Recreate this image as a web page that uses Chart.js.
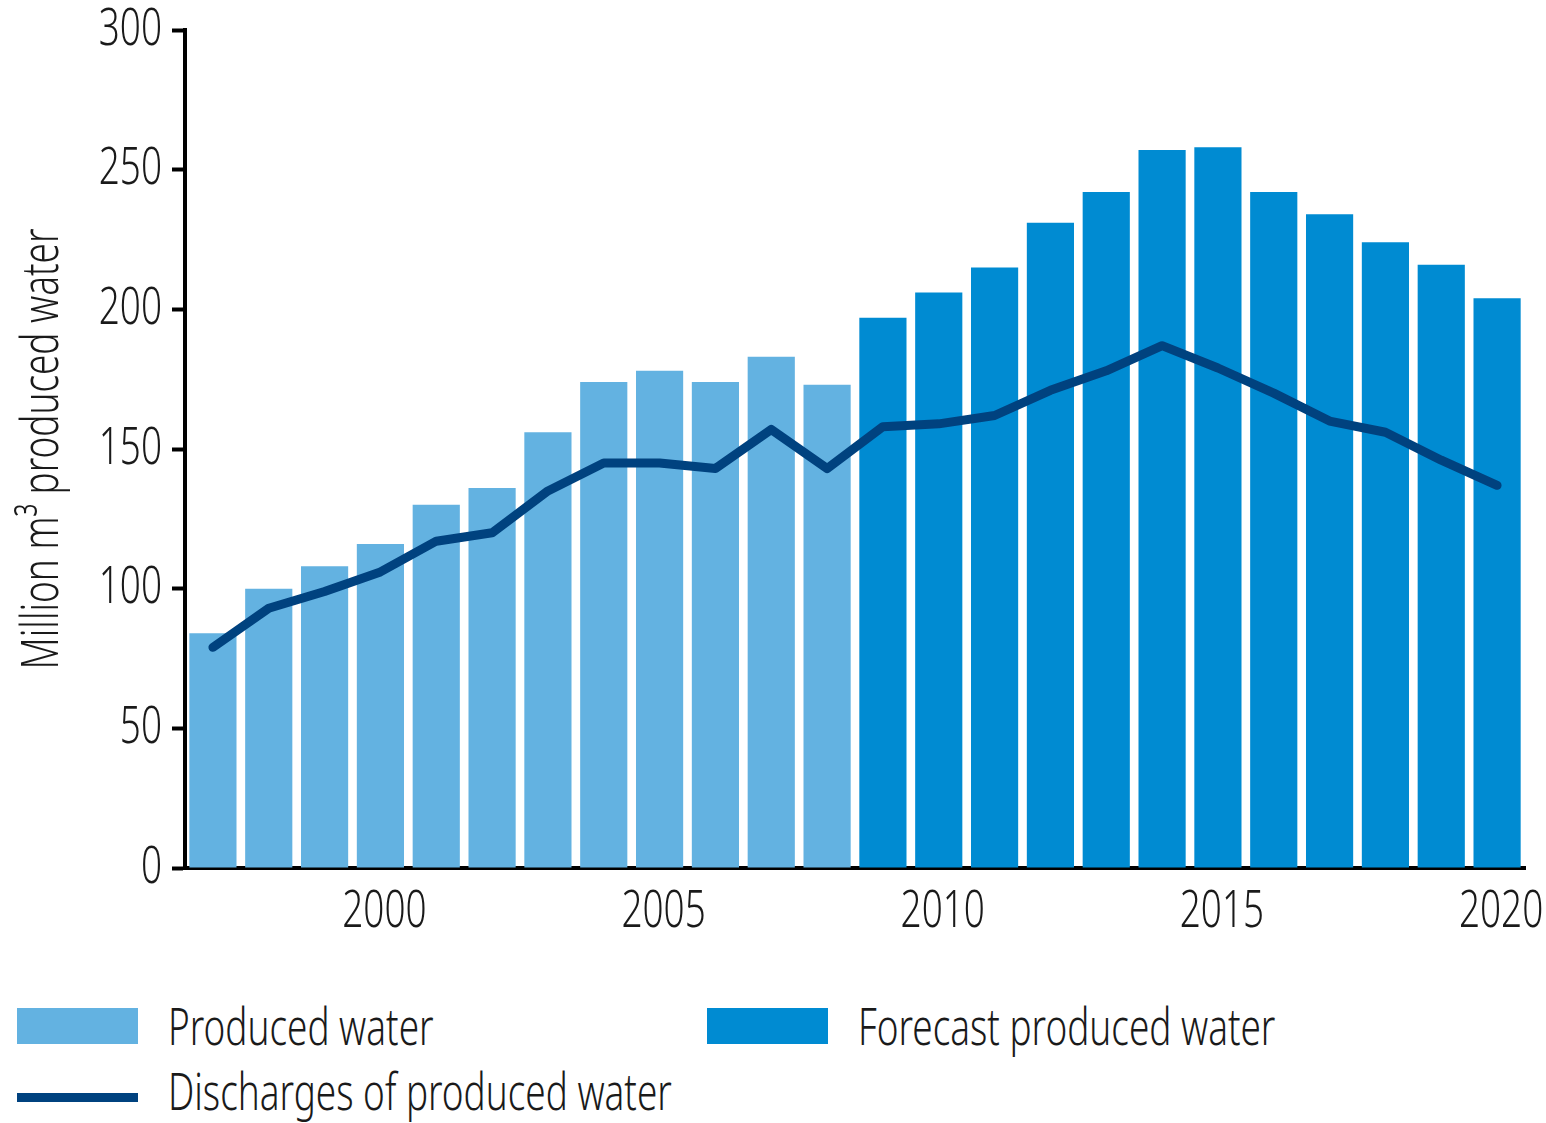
<!DOCTYPE html>
<html>
<head>
<meta charset="utf-8">
<script src="https://cdn.jsdelivr.net/npm/chart.js@4/dist/chart.umd.min.js"></script>
<style>
  html, body { margin: 0; padding: 0; background: #fff; }
  body { width: 1546px; height: 1123px; position: relative; overflow: hidden;
         font-family: "Noto Sans", "DejaVu Sans Condensed", sans-serif; font-weight: 300; color: #1a1a1a; }
  #wrap { position: absolute; left: 0; top: 0; width: 1546px; height: 960px; }
  .legend { position: absolute; font-size: 52px; line-height: 52px; }
  .legend .sw { position: absolute; left: 0; }
  .legend span { position: absolute; left: 151px; white-space: nowrap; transform: scaleX(0.71); transform-origin: 0 0; }
</style>
</head>
<body>
<div id="wrap"><canvas id="chart" width="1546" height="960"></canvas></div>

<div class="legend" style="left:17px; top:1008px;">
  <div class="sw" style="top:0; width:121px; height:36px; background:#63b2e1;"></div>
  <span style="top:-9px;">Produced water</span>
</div>
<div class="legend" style="left:707px; top:1008px;">
  <div class="sw" style="top:0; width:121px; height:36px; background:#008bd2;"></div>
  <span style="top:-9px;">Forecast produced water</span>
</div>
<div class="legend" style="left:17px; top:1068px;">
  <div class="sw" style="top:25px; width:121px; height:9px; background:#00427f;"></div>
  <span style="top:-4px;">Discharges of produced water</span>
</div>

<script>
const FONT = '"Noto Sans", "DejaVu Sans Condensed", sans-serif';
const TEXT_FONT = { family: FONT, size: 52, weight: 300 };
const NARROW = 0.71; // the original uses a condensed face, squeeze Noto to match

const YEARS = ["1997", "1998", "1999", "2000", "2001", "2002", "2003", "2004", "2005", "2006", "2007", "2008",
               "2009", "2010", "2011", "2012", "2013", "2014", "2015", "2016", "2017", "2018", "2019", "2020"];

// measured, 1997-2008
const PRODUCED = [84, 100, 108, 116, 130, 136, 156, 174, 178, 174, 183, 173,
                  null, null, null, null, null, null, null, null, null, null, null, null];

// forecast, 2009-2020
const FORECAST = [null, null, null, null, null, null, null, null, null, null, null, null,
                  197, 206, 215, 231, 242, 257, 258, 242, 234, 224, 216, 204];

const DISCHARGES = [79, 93, 99, 106, 117, 120, 135, 145, 145, 143, 157, 143,
                    158, 159, 162, 171, 178, 187, 179, 170, 160, 156, 146, 137];

const Y_TICKS = [0, 50, 100, 150, 200, 250, 300];
const X_LABELS = ["2000", "2005", "2010", "2015", "2020"];

const canvas = document.getElementById("chart");
const ctx = canvas.getContext("2d");

// horizontal squeeze for every label Chart.js writes
const fillText = ctx.fillText.bind(ctx);
ctx.fillText = (text, x, y) => {
  ctx.save();
  ctx.translate(x, y);
  ctx.scale(NARROW, 1);
  fillText(text, 0, 0);
  ctx.restore();
};
const measureText = ctx.measureText.bind(ctx);
ctx.measureText = text => {
  const m = measureText(text);
  return {
    width: m.width * NARROW,
    actualBoundingBoxAscent: m.actualBoundingBoxAscent,
    actualBoundingBoxDescent: m.actualBoundingBoxDescent,
  };
};

new Chart(ctx, {
  data: {
    labels: YEARS,
    datasets: [
      {
        type: "line",
        label: "Discharges of produced water",
        data: DISCHARGES,
        borderColor: "#00427f",
        borderWidth: 9,
        borderCapStyle: "round",
        borderJoinStyle: "round",
        pointRadius: 0,
        tension: 0,
        order: 0,
      },
      {
        type: "bar",
        label: "Produced water",
        data: PRODUCED,
        backgroundColor: "#63b2e1",
        grouped: false,
        categoryPercentage: 1,
        barPercentage: 0.845,
        order: 1,
      },
      {
        type: "bar",
        label: "Forecast produced water",
        data: FORECAST,
        backgroundColor: "#008bd2",
        grouped: false,
        categoryPercentage: 1,
        barPercentage: 0.845,
        order: 1,
      },
    ],
  },
  options: {
    responsive: false,
    animation: false,
    layout: { padding: { top: 30, right: 21, left: 0, bottom: 0 } },
    plugins: { legend: { display: false }, tooltip: { enabled: false } },
    scales: {
      x: {
        type: "category",
        offset: true,
        grid: { display: false, drawTicks: false },
        border: { display: true, color: "#000", width: 4 },
        ticks: {
          autoSkip: false,
          maxRotation: 0,
          padding: 13,
          labelOffset: 4,
          color: "#1a1a1a",
          font: TEXT_FONT,
          callback: (v, i) => X_LABELS.includes(YEARS[i]) ? YEARS[i] : "",
        },
        afterFit: s => { s.height = 92; s.paddingLeft = 0; s.paddingRight = 0; },
      },
      y: {
        min: 0,
        max: 300,
        afterBuildTicks: s => { s.ticks = Y_TICKS.map(v => ({ value: v })); },
        grid: { drawOnChartArea: false, tickLength: 13, tickWidth: 4, color: "#000" },
        border: { display: true, color: "#000", width: 4 },
        ticks: {
          padding: 10,
          color: "#1a1a1a",
          font: TEXT_FONT,
        },
        title: {
          display: true,
          text: "Million m³ produced water",
          color: "#1a1a1a",
          font: TEXT_FONT,
          padding: { top: 12, bottom: 18 },
        },
        afterFit: s => { s.width = 185; s.paddingTop = 0; s.paddingBottom = 0; },
      },
    },
  },
});
</script>
</body>
</html>
